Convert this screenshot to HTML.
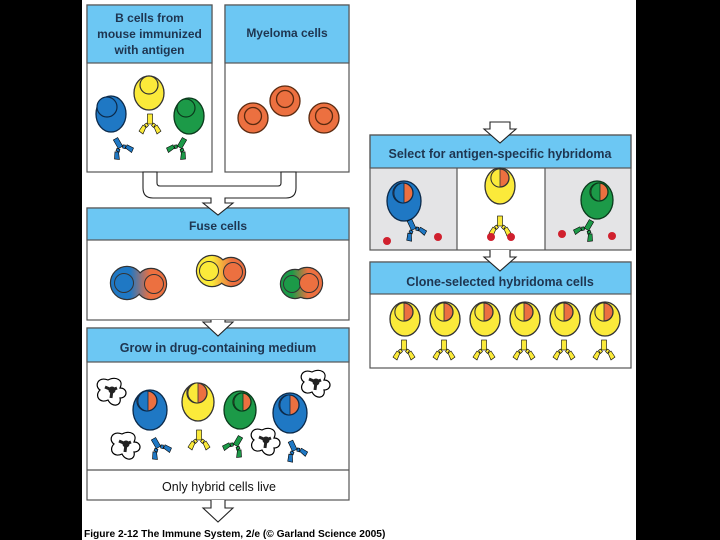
<!DOCTYPE html>
<html><head><meta charset="utf-8"><style>
html,body{margin:0;padding:0;background:#000;}
svg{display:block}
text{font-family:"Liberation Sans",sans-serif;font-weight:bold;fill:#1e3550;}
</style></head><body>
<svg width="720" height="540" viewBox="0 0 720 540" xmlns="http://www.w3.org/2000/svg">
<defs>
 <g id="ab" stroke="#000" stroke-width="0.6">
  <rect x="-2.5" y="-13" width="5" height="10"/>
  <polygon points="-1.5,-1.5 -3.5,-4 -5.5,-2.5 -3.5,0.5"/>
  <polygon points="-4,0 -7,-2 -11,4 -7,7"/>
  <polygon points="1.5,-1.5 3.5,-4 5.5,-2.5 3.5,0.5"/>
  <polygon points="4,0 7,-2 11,4 7,7"/>
 </g>
 <g id="dead">
  <path d="M-4,-12 C-14,-16 -18,-6 -12,-2 C-18,4 -12,12 -4,8 C0,16 10,14 8,6 C16,6 16,-4 8,-4 C12,-12 4,-16 -4,-12 Z" fill="#fff" stroke="#000" stroke-width="1.2"/>
  <circle cx="0" cy="-2" r="3.5" fill="#222"/>
  <path d="M-7,-5 L0,-2 L5,-4 M0,-2 L-1,6" stroke="#222" stroke-width="3" fill="none"/>
 </g>
 <linearGradient id="gbo" gradientUnits="userSpaceOnUse" x1="130" x2="150"><stop offset="0" stop-color="#1f78c4"/><stop offset="1" stop-color="#ec7040"/></linearGradient>
 <linearGradient id="gyo" gradientUnits="userSpaceOnUse" x1="212" x2="232"><stop offset="0" stop-color="#fbea3a"/><stop offset="1" stop-color="#ec7040"/></linearGradient>
 <linearGradient id="ggo" gradientUnits="userSpaceOnUse" x1="292" x2="308"><stop offset="0" stop-color="#1c9a48"/><stop offset="1" stop-color="#ec7040"/></linearGradient>
</defs>
<rect x="82" y="0" width="554" height="540" fill="#fff"/>

<!-- top boxes -->
<rect x="87" y="5" width="125" height="167" fill="#fff" stroke="#555" stroke-width="1.2"/>
<rect x="87" y="5" width="125" height="58" fill="#6cc7f3" stroke="#555" stroke-width="1.2"/>
<text x="149.5" y="22" font-size="12" text-anchor="middle">B cells from</text>
<text x="149.5" y="38" font-size="12" text-anchor="middle">mouse immunized</text>
<text x="149.5" y="54" font-size="12" text-anchor="middle">with antigen</text>
<rect x="225" y="5" width="124" height="167" fill="#fff" stroke="#555" stroke-width="1.2"/>
<rect x="225" y="5" width="124" height="58" fill="#6cc7f3" stroke="#555" stroke-width="1.2"/>
<text x="287" y="37" font-size="12" text-anchor="middle">Myeloma cells</text>

<!-- B cells -->
<ellipse cx="111" cy="114" rx="15" ry="18" fill="#1f78c4" stroke="#0c2a4a" stroke-width="1.3"/>
<circle cx="107" cy="107" r="10" fill="#1f78c4" stroke="#0c2a4a" stroke-width="1.2"/>
<use href="#ab" x="122" y="150" fill="#1f78c4" transform="rotate(-30 122 150)"/>
<ellipse cx="149" cy="93" rx="15" ry="17" fill="#fbea3a" stroke="#333" stroke-width="1.3"/>
<circle cx="149" cy="85" r="9" fill="#fbea3a" stroke="#333" stroke-width="1.2"/>
<use href="#ab" x="150" y="127" fill="#fbea3a"/>
<ellipse cx="189" cy="116" rx="15" ry="18" fill="#1c9a48" stroke="#0b3a1c" stroke-width="1.3"/>
<circle cx="186" cy="108" r="9" fill="#1c9a48" stroke="#0b3a1c" stroke-width="1.2"/>
<use href="#ab" x="178" y="150" fill="#1c9a48" transform="rotate(30 178 150)"/>
<g fill="#ec7040" stroke="#5a2a10" stroke-width="1.3">
<circle cx="253" cy="118" r="15"/><circle cx="253" cy="116" r="8.5"/>
<circle cx="285" cy="101" r="15"/><circle cx="285" cy="99" r="8.5"/>
<circle cx="324" cy="118" r="15"/><circle cx="324" cy="116" r="8.5"/>
</g>

<!-- fuse box -->
<rect x="87" y="208" width="262" height="112" fill="#fff" stroke="#555" stroke-width="1.2"/>
<rect x="87" y="208" width="262" height="32" fill="#6cc7f3" stroke="#555" stroke-width="1.2"/>
<text x="218" y="230" font-size="12" text-anchor="middle">Fuse cells</text>
<g stroke="#333" stroke-width="2.4"><circle cx="127" cy="283" r="16"/><circle cx="151" cy="284" r="15"/></g>
<g fill="url(#gbo)"><circle cx="127" cy="283" r="16"/><circle cx="151" cy="284" r="15"/></g>
<circle cx="124" cy="283" r="9.5" fill="#1f78c4" stroke="#333"/><circle cx="154" cy="284" r="9.5" fill="#ec7040" stroke="#333"/>
<g stroke="#333" stroke-width="2.4"><circle cx="212" cy="271" r="15"/><circle cx="231" cy="272" r="14"/></g>
<g fill="url(#gyo)"><circle cx="212" cy="271" r="15"/><circle cx="231" cy="272" r="14"/></g>
<circle cx="209" cy="271" r="9.5" fill="#fbea3a" stroke="#333"/><circle cx="233" cy="272" r="9.5" fill="#ec7040" stroke="#333"/>
<g stroke="#333" stroke-width="2.4"><circle cx="295" cy="284" r="14"/><circle cx="307" cy="283" r="15"/></g>
<g fill="url(#ggo)"><circle cx="295" cy="284" r="14"/><circle cx="307" cy="283" r="15"/></g>
<circle cx="292" cy="284" r="8.5" fill="#1c9a48" stroke="#333"/><circle cx="309" cy="283" r="9.5" fill="#ec7040" stroke="#333"/>

<!-- grow box -->
<rect x="87" y="328" width="262" height="172" fill="#fff" stroke="#555" stroke-width="1.2"/>
<rect x="87" y="328" width="262" height="34" fill="#6cc7f3" stroke="#555" stroke-width="1.2"/>
<line x1="87" y1="470" x2="349" y2="470" stroke="#555" stroke-width="1.2"/>
<text x="218" y="352" font-size="12.5" text-anchor="middle">Grow in drug-containing medium</text>
<text x="219" y="491" font-size="12.5" text-anchor="middle" style="font-weight:normal;fill:#111">Only hybrid cells live</text>
<use href="#dead" x="112" y="392"/><use href="#dead" x="126" y="446"/><use href="#dead" x="266" y="442"/><use href="#dead" x="316" y="384"/>
<g stroke-width="1.3">
<ellipse cx="150" cy="410" rx="17" ry="20" fill="#1f78c4" stroke="#0c2a4a"/>
<circle cx="147" cy="401" r="10" fill="#ec7040" stroke="#0c2a4a"/><path d="M148,391 A10,10 0 0 0 148,411 Z" fill="#1f78c4" stroke="#0c2a4a" stroke-width="0.8"/>
<ellipse cx="198" cy="402" rx="16" ry="19" fill="#fbea3a" stroke="#333"/>
<circle cx="197" cy="393" r="10" fill="#ec7040" stroke="#333"/><path d="M198,383 A10,10 0 0 0 198,403 Z" fill="#fbea3a" stroke="#333" stroke-width="0.8"/>
<ellipse cx="240" cy="410" rx="16" ry="19" fill="#1c9a48" stroke="#0b3a1c"/>
<circle cx="242" cy="402" r="9" fill="#ec7040" stroke="#0b3a1c"/><path d="M243,393 A9,9 0 0 0 243,411 Z" fill="#1c9a48" stroke="#0b3a1c" stroke-width="0.8"/>
<ellipse cx="290" cy="413" rx="17" ry="20" fill="#1f78c4" stroke="#0c2a4a"/>
<circle cx="289" cy="405" r="10" fill="#ec7040" stroke="#0c2a4a"/><path d="M290,395 A10,10 0 0 0 290,415 Z" fill="#1f78c4" stroke="#0c2a4a" stroke-width="0.8"/>
</g>
<use href="#ab" x="160" y="450" fill="#1f78c4" transform="rotate(-30 160 450)"/>
<use href="#ab" x="199" y="443" fill="#fbea3a"/>
<use href="#ab" x="234" y="448" fill="#1c9a48" transform="rotate(30 234 448)"/>
<use href="#ab" x="296" y="453" fill="#1f78c4" transform="rotate(-25 296 453)"/>

<!-- connectors -->
<path d="M143,172 L143,188 Q143,198 153,198 L211,198 L211,203 L203,203 L218,215 L233,203 L225,203 L225,198 L286,198 Q296,198 296,188 L296,172 L281,172 L281,183 Q281,186 278,186 L160,186 Q157,186 157,183 L157,172 Z" fill="#fff" stroke="#222" stroke-width="1.1"/>
<path d="M211,320 L211,322 L203,322 L218,336 L233,322 L225,322 L225,320" fill="#fff" stroke="#222" stroke-width="1.1"/>
<path d="M211,500 L211,508 L203,508 L218,522 L233,508 L225,508 L225,500" fill="#fff" stroke="#222" stroke-width="1.1"/>

<!-- select box -->
<rect x="370" y="135" width="261" height="115" fill="#fff"/>
<rect x="370" y="168" width="87" height="82" fill="#e4e4e6"/>
<rect x="545" y="168" width="86" height="82" fill="#e4e4e6"/>
<line x1="457" y1="168" x2="457" y2="250" stroke="#555" stroke-width="1.2"/>
<line x1="545" y1="168" x2="545" y2="250" stroke="#555" stroke-width="1.2"/>
<rect x="370" y="135" width="261" height="33" fill="#6cc7f3" stroke="#555" stroke-width="1.2"/>
<rect x="370" y="135" width="261" height="115" fill="none" stroke="#555" stroke-width="1.2"/>
<text x="500" y="158" font-size="12.5" text-anchor="middle">Select for antigen-specific hybridoma</text>
<path d="M490,122 L490,129 L484,129 L500,143 L516,129 L510,129 L510,122 Z" fill="#fff" stroke="#222" stroke-width="1.1"/>
<g stroke-width="1.3">
<ellipse cx="404" cy="201" rx="17" ry="20" fill="#1f78c4" stroke="#0c2a4a"/>
<circle cx="403" cy="193" r="10" fill="#ec7040" stroke="#0c2a4a"/><path d="M404,183 A10,10 0 0 0 404,203 Z" fill="#1f78c4" stroke="#0c2a4a" stroke-width="0.8"/>
<ellipse cx="500" cy="186" rx="15" ry="18" fill="#fbea3a" stroke="#333"/>
<circle cx="500" cy="178" r="9" fill="#ec7040" stroke="#333"/><path d="M500,169 A9,9 0 0 0 500,187 Z" fill="#fbea3a" stroke="#333" stroke-width="0.8"/>
<ellipse cx="597" cy="200" rx="16" ry="19" fill="#1c9a48" stroke="#0b3a1c"/>
<circle cx="599" cy="192" r="9" fill="#ec7040" stroke="#0b3a1c"/><path d="M600,183 A9,9 0 0 0 600,201 Z" fill="#1c9a48" stroke="#0b3a1c" stroke-width="0.8"/>
</g>
<use href="#ab" x="415" y="232" fill="#1f78c4" transform="rotate(-25 415 232)"/>
<use href="#ab" x="500" y="229" fill="#fbea3a"/>
<use href="#ab" x="585" y="232" fill="#1c9a48" transform="rotate(30 585 232)"/>
<g fill="#d0202e"><circle cx="387" cy="241" r="4"/><circle cx="438" cy="237" r="4"/><circle cx="491" cy="237" r="4"/><circle cx="511" cy="237" r="4"/><circle cx="562" cy="234" r="4"/><circle cx="612" cy="236" r="4"/></g>

<!-- clone box -->
<rect x="370" y="262" width="261" height="106" fill="#fff" stroke="#555" stroke-width="1.2"/>
<rect x="370" y="262" width="261" height="32" fill="#6cc7f3" stroke="#555" stroke-width="1.2"/>
<text x="500" y="286" font-size="12.5" text-anchor="middle">Clone-selected hybridoma cells</text>
<path d="M490,250 L490,257 L484,257 L500,271 L516,257 L510,257 L510,250" fill="#fff" stroke="#222" stroke-width="1.1"/>
<g id="cl" stroke-width="1.3">
<ellipse cx="405" cy="319" rx="15" ry="17" fill="#fbea3a" stroke="#333"/>
<circle cx="404" cy="312" r="9" fill="#ec7040" stroke="#333"/><path d="M404,303 A9,9 0 0 0 404,321 Z" fill="#fbea3a" stroke="#333" stroke-width="0.8"/>
<use href="#ab" x="404" y="353" fill="#fbea3a"/>
</g>
<use href="#cl" x="40"/><use href="#cl" x="80"/><use href="#cl" x="120"/><use href="#cl" x="160"/><use href="#cl" x="200"/>

<text x="84" y="537" font-size="10.2" style="fill:#000">Figure 2-12  The Immune System, 2/e (© Garland Science 2005)</text>
</svg>
</body></html>
